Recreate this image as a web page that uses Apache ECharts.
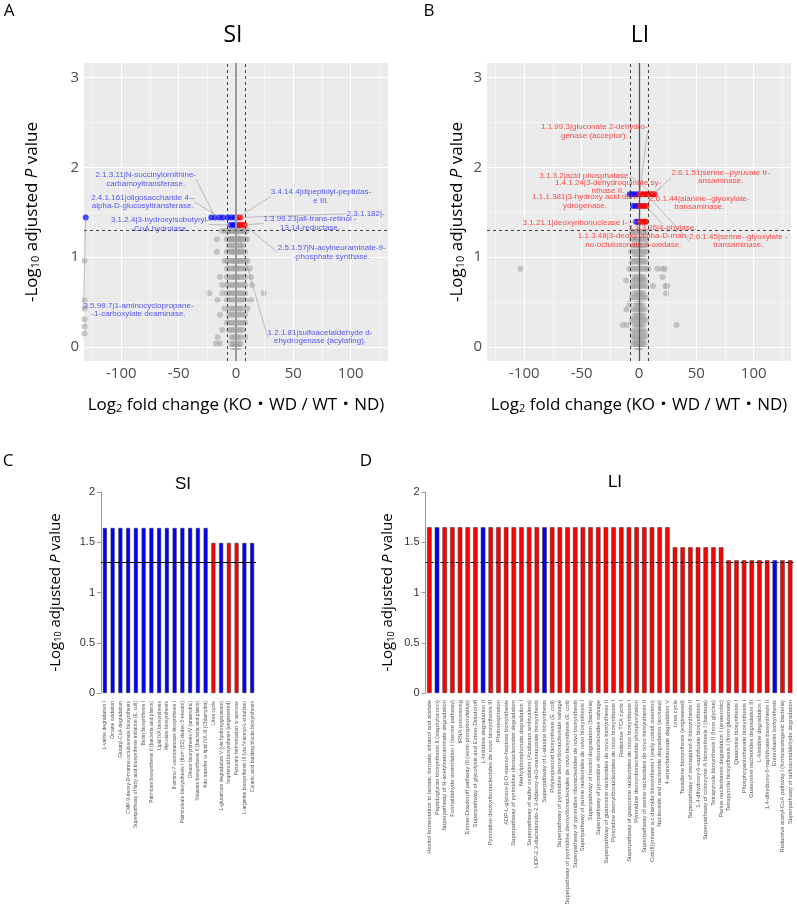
<!DOCTYPE html>
<html>
<head>
<meta charset="utf-8">
<script src="https://cdn.jsdelivr.net/npm/echarts@6/dist/echarts.min.js"></script>
<style>
html, body { margin: 0; padding: 0; background: #fff; }
#chart { width: 797px; height: 910px; }
</style>
</head>
<body>
<div id="chart"></div>
<script>
// ---- volcano data ----
// non-significant points: [y, [x values]]
const grayLevelsA = [
  [1.29, [-12, -9, -7, -6, -5, -4, -3, -2, -1, 0, 1, 2, 3, 4, 5, 6, 7, 9]],
  [1.20, [-16.6, -8, -6, -5, -4, -3, -2, -1, 0, 1, 2, 3, 4, 5, 6, 8, 9.6]],
  [1.13, [-6, -4, -2, 0, 2, 4, 6]],
  [1.06, [-16.6, -8, -6, -4, -3, -2, -1, 0, 1, 2, 3, 4, 6, 8]],
  [0.96, [-132, -10, -8, -6, -4, -3, -2, -1, 0, 1, 2, 3, 4, 6, 8, 10]],
  [0.875, [-8, -6, -4, -2, -1, 0, 1, 2, 4, 6, 8, 12]],
  [0.78, [-14, -8, -6, -4, -2, -1, 0, 1, 2, 4, 6, 8, 13]],
  [0.69, [-12, -8, -6, -4, -2, 0, 2, 4, 6, 8, 14]],
  [0.60, [-23.3, -12, -8, -6, -4, -2, 0, 2, 4, 6, 8, 24.1]],
  [0.52, [-132, -16, -8, -6, -4, -2, 0, 2, 4, 6, 8, 13]],
  [0.43, [-132, -10, -6, -4, -2, 0, 2, 4, 6, 10]],
  [0.36, [-14, -6, -4, -2, 0, 2, 4, 6, 8]],
  [0.31, [-132]],
  [0.27, [-8, -6, -4, -2, 0, 2, 4, 6, 8]],
  [0.23, [-132]],
  [0.19, [-12, -6, -4, -2, 0, 2, 4, 6]],
  [0.15, [-132]],
  [0.11, [-16, -4, -2, 0, 2, 4, 8]],
  [0.04, [-17.5, -14, -4, -2, 0, 2, 4]],
  [0.0, [-3, -1, 0, 1, 3]]
];
const grayLevelsB = [
  [1.28, [-6, -4, -2, 0, 2, 4, 6]],
  [1.20, [-6, -4, -2, 0, 2, 4, 6]],
  [1.13, [-5, -3, -1, 1, 3, 5]],
  [1.06, [-7, -5, -3, -1, 1, 3, 5, 7]],
  [1.00, [-4, -2, 0, 2, 4]],
  [0.95, [-6, -4, -2, 0, 2, 4, 6]],
  [0.87, [-103.4, -8.4, -6, -4, -2, 0, 2, 4, 6, 8, 16, 20.4, 23]],
  [0.78, [-4, -2, 0, 2, 4, 20.4]],
  [0.74, [-11.3, -5, -3, -1, 1, 3, 5]],
  [0.68, [-6, -4, -2, 0, 2, 4, 6, 12.2, 23, 24.5]],
  [0.60, [-4, -2, 0, 2, 4, 23.6]],
  [0.55, [-6, -4, -2, 0, 2, 4, 6]],
  [0.48, [-8.4, -3, -1, 1, 3]],
  [0.42, [-11, -5, -3, -1, 1, 3, 5]],
  [0.35, [-4, -2, 0, 2, 4]],
  [0.30, [-6, -4, -2, 0, 2, 4, 6]],
  [0.245, [-14.1, -10.6, -4, -2, 0, 2, 4, 32.7]],
  [0.18, [-5, -3, -1, 1, 3, 5]],
  [0.12, [-6, -4, -2, 0, 2, 4, 6]],
  [0.07, [-4, -2, 0, 2, 4]],
  [0.03, [-5, -3, -1, 1, 3, 5]],
  [0.0, [-2, 0, 2]]
];

// significant enzymes [log2FC, -log10 padj]
const downA = [[-131, 1.442], [-21.6, 1.442], [-18.1, 1.442], [-14.3, 1.442], [-11.4, 1.442], [-7.1, 1.442],
  [-4.2, 1.442], [-1.3, 1.442], [-4.8, 1.357], [-2.5, 1.357], [-0.5, 1.357], [1.6, 1.357]];
const upA = [[1.6, 1.442], [3.8, 1.442], [3.2, 1.357], [5.5, 1.357], [7.6, 1.357]];
const downB = [[-8.1, 1.70], [-6, 1.70], [-4, 1.70], [-1.7, 1.70], [-5.2, 1.568], [-3, 1.568], [-0.9, 1.568],
  [-2.5, 1.394], [-0.9, 1.394]];
const upB = [[0.5, 1.70], [2.5, 1.70], [4.5, 1.70], [6.5, 1.70], [8.5, 1.70], [10.5, 1.70], [12, 1.70], [13.6, 1.70],
  [0.5, 1.568], [2.5, 1.568], [4.5, 1.568], [6.4, 1.568], [0.5, 1.394], [2.5, 1.394], [4.5, 1.394], [6, 1.394]];

// labelled enzymes and the point each one belongs to
const labelTextA = [
  '2.1.3.11|N-succinylornithine-\ncarbamoyltransferase.',
  '2.4.1.161|oligosaccharide 4--\nalpha-D-glucosyltransferase.',
  '3.1.2.4|3-hydroxyisobutyryl-\n-CoA hydrolase.',
  '3.5.99.7|1-aminocyclopropane-\n-1-carboxylate deaminase.',
  '3.4.14.4|dipeptidyl-peptidas-\ne III.',
  '2.3.1.182|-',
  '1.3.99.23|all-trans-retinol -\n13,14-reductase.',
  '2.5.1.57|N-acylneuraminate-9-\n-phosphate synthase.',
  '1.2.1.81|sulfoacetaldehyde d-\nehydrogenase (acylating).'
];
const labelPointA = [[-18.1, 1.442], [-14.3, 1.442], [-4.8, 1.357], [-131, 1.442], [1.6, 1.442],
  [3.8, 1.442], [5.5, 1.357], [7.6, 1.357], [-0.5, 1.357]];
const labelTextB = [
  '1.1.99.3|gluconate 2-dehydro-\ngenase (acceptor).',
  '3.1.3.2|acid phosphatase.',
  '1.4.1.24|3-dehydroquinate sy-\nnthase II.',
  '1.1.1.381|3-hydroxy acid deh-\nydrogenase.',
  '3.1.21.1|deoxyribonuclease I-',
  '3.1.3.26|4-phytase.',
  '1.1.3.48|3-deoxy-alpha-D-man-\nno-octulosonate 8-oxidase.',
  '2.6.1.51|serine--pyruvate tr-\nansaminase.',
  '2.6.1.44|alanine--glyoxylate-\ntransaminase.',
  '2.6.1.45|serine--glyoxylate -\ntransaminase.'
];
const labelPointB = [[0.5, 1.70], [12, 1.70], [10.5, 1.70], [4.5, 1.70], [2.5, 1.394], [6.4, 1.568],
  [4.5, 1.394], [13.6, 1.70], [8.5, 1.70], [6.5, 1.70]];

const volcanoTicksX = [-100, -50, 0, 50, 100];
const volcanoTicksY = [0, 1, 2, 3];

// ---- pathway bar data ----
const pathwaysSI = [
  'L-valine degradation I', 'Octane oxidation', 'Glutaryl-CoA degradation',
  'CMP-3-deoxy-D-manno-octulosonate biosynthesis',
  'Superpathway of fatty acid biosynthesis initiation (E. coli)', 'Biotin biosynthesis I',
  'Palmitate biosynthesis II (bacteria and plants)', 'Lipid IVA biosynthesis', 'Mycolate biosynthesis',
  '8-amino-7-oxononanoate biosynthesis I', 'Palmitoleate biosynthesis I (from (5Z)-dodec-5-enoate)',
  'Oleate biosynthesis IV (anaerobic)', 'Stearate biosynthesis II (bacteria and plants)',
  'Kdo transfer to lipid IVA III (Chlamydia)', 'Urea cycle',
  'L-glutamate degradation V (via hydroxyglutarate)', 'Isoprenoid biosynthesis (engineered)',
  'Pyruvate fermentation to acetone', 'L-arginine biosynthesis III (via N-acetyl-L-citrulline)',
  'Colanic acid building blocks biosynthesis'
];
const valuesSI = [1.642, 1.642, 1.642, 1.642, 1.642, 1.642, 1.642, 1.642, 1.642, 1.642, 1.642, 1.642, 1.642, 1.642,
  1.493, 1.493, 1.493, 1.493, 1.493, 1.493];
const directionSI = ['down', 'down', 'down', 'down', 'down', 'down', 'down', 'down', 'down', 'down', 'down', 'down',
  'down', 'down', 'up', 'down', 'up', 'up', 'down', 'down'];

const pathwaysLI = [
  'Hexitol fermentation to lactate, formate, ethanol and acetate', 'Peptidoglycan biosynthesis II (staphylococci)',
  'Superpathway of N-acetylneuraminate degradation', 'Formaldehyde assimilation I (serine pathway)',
  'tRNA processing', 'Entner-Doudoroff pathway III (semi-phosphorylative)',
  'Superpathway of glycolysis and Entner-Doudoroff', 'L-histidine degradation II',
  'Pyrimidine deoxyribonucleotides de novo biosynthesis III', 'Photorespiration',
  'ADP-L-glycero-β-D-manno-heptose biosynthesis', 'Superpathway of pyrimidine ribonucleosides degradation',
  'Methylphosphonate degradation I', 'Superpathway of sulfur oxidation (Acidianus ambivalens)',
  'UDP-2,3-diacetamido-2,3-dideoxy-α-D-mannuronate biosynthesis', 'Superpathway of L-alanine biosynthesis',
  'Polyisoprenoid biosynthesis (E. coli)', 'Superpathway of pyrimidine deoxyribonucleoside salvage',
  'Superpathway of pyrimidine deoxyribonucleotides de novo biosynthesis (E. coli)',
  'Superpathway of pyrimidine ribonucleotides de novo biosynthesis',
  'Superpathway of purine nucleotides de novo biosynthesis I', 'Superpathway of hexitol degradation (bacteria)',
  'Superpathway of pyrimidine ribonucleosides salvage',
  'Superpathway of guanosine nucleotides de novo biosynthesis II',
  'Pyrimidine deoxyribonucleotides de novo biosynthesis I', 'Reductive TCA cycle I',
  'Superpathway of guanosine nucleotides de novo biosynthesis I', 'Pyrimidine deoxyribonucleotide phosphorylation',
  'Superpathway of purine nucleotides de novo biosynthesis II',
  'Cob(II)yrinate a,c-diamide biosynthesis I (early cobalt insertion)',
  'Nucleoside and nucleotide degradation (archaea)', '4-aminobutanoate degradation V', 'Urea cycle',
  'Taxadiene biosynthesis (engineered)', 'Superpathway of menaquinol-8 biosynthesis II',
  '1,4-dihydroxy-6-naphthoate biosynthesis I', 'Superpathway of coenzyme A biosynthesis I (bacteria)',
  'Tetrapyrrole biosynthesis II (from glycine)', 'Purine nucleobases degradation I (anaerobic)',
  'Tetrapyrrole biosynthesis I (from glutamate)', 'Queuosine biosynthesis I', 'Phosphopantothenate biosynthesis I',
  'Guanosine nucleotides degradation III', 'L-histidine degradation I',
  '1,4-dihydroxy-6-naphthoate biosynthesis II', 'Enterobactin biosynthesis',
  'Reductive acetyl-CoA pathway I (homoacetogenic bacteria)', 'Superpathway of sulfoacetaldehyde degradation'
];
const valuesLI = [
  1.65, 1.65, 1.65, 1.65, 1.65, 1.65, 1.65, 1.65, 1.65, 1.65, 1.65, 1.65, 1.65, 1.65, 1.65, 1.65,
  1.65, 1.65, 1.65, 1.65, 1.65, 1.65, 1.65, 1.65, 1.65, 1.65, 1.65, 1.65, 1.65, 1.65, 1.65, 1.65,
  1.45, 1.45, 1.45, 1.45, 1.45, 1.45, 1.45,
  1.32, 1.32, 1.32, 1.32, 1.32, 1.32, 1.32, 1.32, 1.32
];
const directionLI = [
  'up', 'down', 'up', 'up', 'up', 'up', 'up', 'down', 'up', 'up', 'up', 'up', 'up', 'up', 'up', 'down',
  'up', 'up', 'up', 'up', 'up', 'up', 'up', 'up', 'up', 'up', 'up', 'up', 'up', 'up', 'up', 'up',
  'up', 'up', 'up', 'up', 'up', 'up', 'up', 'up', 'up', 'up', 'up', 'up', 'up', 'down', 'up', 'up'
];

const padjCutoff = 1.3;
const fcCutoff = 8;

// ---- styling ----
const BLUE = '#0000FF';
const RED = '#FF0000';
const GG = 'Open Sans, "Noto Sans CJK JP", sans-serif';
const ARIAL = '"Liberation Sans", Arial, sans-serif';

const labelBoxA = [[145.7, 179.5], [142.7, 201.7], [160, 224.5], [138.5, 310], [321, 196.5],
  [365.7, 213.7], [310, 223.5], [331.7, 252.5], [320, 337]];
const labelBoxB = [[594.3, 131.5], [585, 176], [608, 187], [585, 201.5], [575, 222.3], [662.3, 228],
  [633.3, 240.5], [720.7, 177], [699.3, 203], [738.3, 241]];

function flatten(levels) {
  const out = [];
  levels.forEach(function (lv) { lv[1].forEach(function (x) { out.push([x, lv[0]]); }); });
  return out;
}

const chart = echarts.init(document.getElementById('chart'), null, { renderer: 'canvas' });

const yTitleRich = function (size) {
  return {
    s: { fontSize: Math.round(size * 0.62), fontFamily: GG, color: '#000', verticalAlign: 'bottom' },
    i: { fontSize: size, fontFamily: GG, color: '#000', fontStyle: 'italic' }
  };
};

function volcanoAxes(gi) {
  const x = {
    gridIndex: gi, type: 'value', min: -132.5, max: 132.5,
    splitLine: { show: false }, axisLine: { show: false },
    axisTick: { show: true, length: 3, lineStyle: { color: '#333' }, customValues: volcanoTicksX },
    axisLabel: { customValues: volcanoTicksX, fontSize: 15, color: '#4D4D4D', fontFamily: GG, margin: 5 },
    name: 'Log{s|2} fold change (KO・WD / WT・ND)', nameLocation: 'middle', nameGap: 36,
    nameTextStyle: { fontSize: 17, color: '#000', fontFamily: GG, rich: yTitleRich(17) }
  };
  const y = {
    gridIndex: gi, type: 'value', min: -0.155, max: 3.16,
    splitLine: { show: false }, axisLine: { show: false },
    axisTick: { show: true, length: 3, lineStyle: { color: '#333' }, customValues: volcanoTicksY },
    axisLabel: { customValues: volcanoTicksY, fontSize: 15, color: '#4D4D4D', fontFamily: GG, margin: 5 },
    name: '-Log{s|10} adjusted {i|P} value', nameLocation: 'middle', nameRotate: 90, nameGap: gi === 0 ? 43 : 21,
    nameTextStyle: { fontSize: 17, color: '#000', fontFamily: GG, rich: yTitleRich(17) }
  };
  return [x, y];
}

function volcanoSeries(gi, gray, down, up, texts, pts, boxes, labelColor, zeroLine) {
  const major = { color: '#fff', width: 1.1, type: 'solid' };
  const minor = { color: '#fff', width: 0.5, type: 'solid' };
  const gridLines = [];
  [-100, -50, 0, 50, 100].forEach(function (v) { gridLines.push({ xAxis: v, lineStyle: major }); });
  [-125, -75, -25, 25, 75, 125].forEach(function (v) { gridLines.push({ xAxis: v, lineStyle: minor }); });
  [0, 1, 2, 3].forEach(function (v) { gridLines.push({ yAxis: v, lineStyle: major }); });
  [0.5, 1.5, 2.5].forEach(function (v) { gridLines.push({ yAxis: v, lineStyle: minor }); });
  const dash = { color: '#444', width: 1, type: [3, 3] };
  return [
    {
      type: 'scatter', xAxisIndex: gi, yAxisIndex: gi, data: [], z: 1, silent: true,
      markLine: { silent: true, symbol: ['none', 'none'], label: { show: false }, animation: false, data: gridLines }
    },
    {
      type: 'scatter', xAxisIndex: gi, yAxisIndex: gi, data: flatten(gray), z: 2, symbolSize: 6,
      itemStyle: { color: '#A0A0A0', opacity: 0.55 }, silent: true
    },
    {
      type: 'scatter', xAxisIndex: gi, yAxisIndex: gi, data: [], z: 3, silent: true,
      markLine: {
        silent: true, symbol: ['none', 'none'], label: { show: false }, animation: false,
        data: [
          { xAxis: 0, lineStyle: zeroLine },
          { xAxis: -fcCutoff, lineStyle: dash },
          { xAxis: fcCutoff, lineStyle: dash },
          { yAxis: padjCutoff, lineStyle: dash }
        ]
      }
    },
    {
      type: 'scatter', xAxisIndex: gi, yAxisIndex: gi, data: down, z: 4, symbolSize: 6,
      itemStyle: { color: BLUE, opacity: 0.7 }
    },
    {
      type: 'scatter', xAxisIndex: gi, yAxisIndex: gi, data: up, z: 4, symbolSize: 6,
      itemStyle: { color: RED, opacity: 0.8 }
    },
    {
      type: 'scatter', xAxisIndex: gi, yAxisIndex: gi, data: pts, z: 5, symbolSize: 1,
      itemStyle: { color: 'rgba(0,0,0,0)' },
      label: {
        show: true, formatter: function (p) { return texts[p.dataIndex]; },
        color: labelColor, fontSize: 8, lineHeight: 8.5, fontFamily: ARIAL, align: 'center'
      },
      labelLine: { show: true, lineStyle: { color: '#9A9A9A', width: 0.6 } },
      labelLayout: function (p) {
        const b = boxes[p.dataIndex];
        return { x: b[0], y: b[1], align: 'center', verticalAlign: 'middle', hideOverlap: false };
      }
    }
  ];
}

function barSeries(gi, values, dirs, cutoffStyle, bw) {
  return {
    type: 'bar', xAxisIndex: gi, yAxisIndex: gi, barWidth: bw,
    data: values.map(function (v, i) {
      return { value: v, itemStyle: { color: dirs[i] === 'up' ? RED : BLUE } };
    }),
    itemStyle: { borderColor: '#333', borderWidth: 0.5 },
    markLine: {
      silent: true, symbol: ['none', 'none'], label: { show: false }, animation: false,
      data: [{ yAxis: padjCutoff, lineStyle: cutoffStyle }]
    }
  };
}

function barAxes(gi, cats, gap, labelSize, labelMargin) {
  const x = {
    gridIndex: gi, type: 'category', data: cats,
    axisLine: { show: false }, axisTick: { show: false },
    axisLabel: { rotate: 90, interval: 0, fontSize: labelSize, color: '#555', fontFamily: ARIAL, margin: labelMargin }
  };
  const y = {
    gridIndex: gi, type: 'value', min: 0, max: 2, interval: 0.5,
    splitLine: { show: false },
    axisLine: { show: true, lineStyle: { color: '#999', width: 1 } },
    axisTick: { show: true, length: 4, lineStyle: { color: '#999' } },
    axisLabel: { fontSize: 11, color: '#333', fontFamily: ARIAL, margin: 6 },
    name: '-Log{s|10} adjusted {i|P} value', nameLocation: 'middle', nameRotate: 90, nameGap: gap,
    nameTextStyle: { fontSize: 15, color: '#000', fontFamily: GG, rich: yTitleRich(15) }
  };
  return [x, y];
}

const axA = volcanoAxes(0);
const axB = volcanoAxes(1);
const axC = barAxes(2, pathwaysSI, 38, 5.05, 8);
const axD = barAxes(3, pathwaysLI, 30, 5.8, 7);

function txt(s, x, y, size, fam) {
  return {
    type: 'text', x: x, y: y, silent: true,
    style: { text: s, fontSize: size, fontFamily: fam, fill: '#000', align: 'center', verticalAlign: 'middle' }
  };
}

const option = {
  animation: false,
  backgroundColor: '#fff',
  grid: [
    { left: 84, top: 63, width: 304, height: 298, show: true, backgroundColor: '#EBEBEB', borderWidth: 0 },
    { left: 487, top: 63, width: 304, height: 298, show: true, backgroundColor: '#EBEBEB', borderWidth: 0 },
    { left: 101, top: 492, width: 155, height: 201 },
    { left: 425.5, top: 492, width: 368.5, height: 201 }
  ],
  xAxis: [axA[0], axB[0], axC[0], axD[0]],
  yAxis: [axA[1], axB[1], axC[1], axD[1]],
  series: []
    .concat(volcanoSeries(0, grayLevelsA, downA, upA, labelTextA, labelPointA, labelBoxA, '#3030FF',
      { color: '#9A9A9A', width: 2, type: 'solid' }))
    .concat(volcanoSeries(1, grayLevelsB, downB, upB, labelTextB, labelPointB, labelBoxB, '#FF2020',
      { color: '#555', width: 1.3, type: 'solid' }))
    .concat([
      barSeries(2, valuesSI, directionSI, { color: '#000', width: 1, type: 'solid' }, 4),
      barSeries(3, valuesLI, directionLI, { color: '#000', width: 1, type: [3, 2] }, 4.5)
    ]),
  graphic: [
    txt('A', 9, 11, 17, GG), txt('B', 429, 11, 17, GG),
    txt('C', 8, 461, 17, GG), txt('D', 366, 461, 17, GG),
    txt('SI', 233, 35, 23, GG), txt('LI', 640, 35, 23, GG),
    txt('SI', 183, 484, 17, ARIAL), txt('LI', 615, 482, 17, ARIAL)
  ]
};

chart.setOption(option);
</script>
</body>
</html>
